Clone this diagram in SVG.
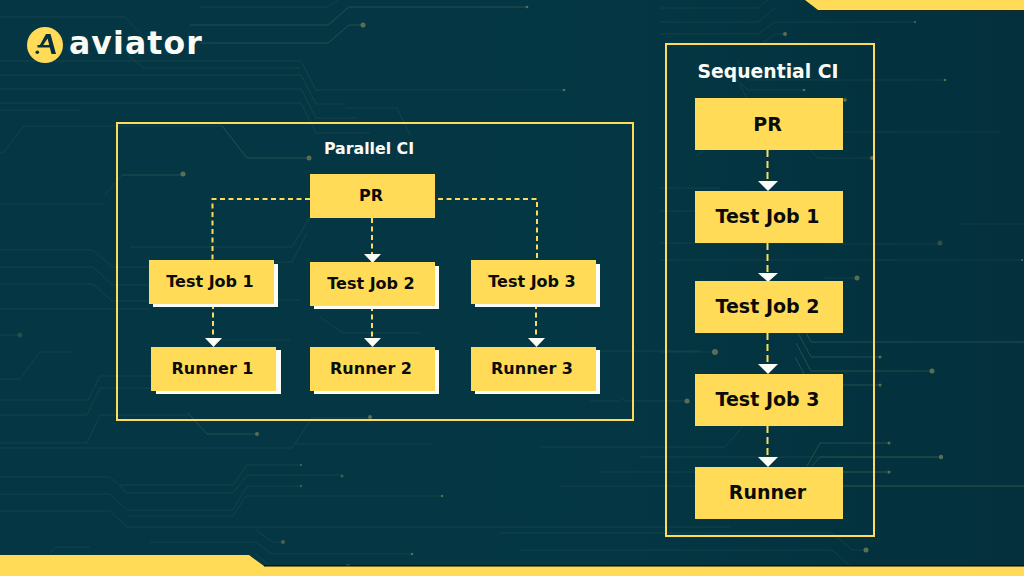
<svg xmlns="http://www.w3.org/2000/svg" width="1024" height="576" viewBox="0 0 1024 576">
<style>
.tr{fill:none;stroke:#46695a;stroke-width:1;opacity:.5}
.tf{fill:none;stroke:#46695a;stroke-width:1;opacity:.26}
.dot{fill:#5a6e52}
.frame{fill:none;stroke:#ffdb58;stroke-width:2}
.box{fill:#ffdb58}
.sh{fill:#fdfdf8}
.l{font-family:"DejaVu Sans","Liberation Sans",sans-serif;font-weight:700;fill:#0b0b08;text-anchor:middle}
.s{font-size:16px}
.b{font-size:19px}
.t{font-family:"DejaVu Sans","Liberation Sans",sans-serif;font-weight:700;fill:#fbfbf6;text-anchor:middle}
.c{fill:none;stroke:#ffdb58;stroke-width:2;stroke-dasharray:5 3.5}
.c2{fill:none;stroke:#ffdb58;stroke-width:2;stroke-dasharray:7 4}
.a{fill:#fdfdf8}
</style>
<defs>
<linearGradient id="bg" x1="0" y1="0" x2="1" y2="0">
<stop offset="0" stop-color="#043643"/>
<stop offset=".55" stop-color="#043744"/>
<stop offset="1" stop-color="#03303c"/>
</linearGradient>
</defs>
<rect width="1024" height="576" fill="url(#bg)"/>
<g id="traces">
<path class="tf" d="M0 17H125L143 36M128 55L143 68H300M0 61H301L316 90H564M0 75H301L316 104H345M0 89H301L316 118H355M0 103H301L316 133H370M345 108H397L410 135M200 7H328L338 0"/>
<path class="tr" d="M190 25H328L349 7H527M200 43H328L349 25H363"/>
<path class="tf" d="M0 110H80M0 153H3L24 126H222"/>
<path class="tr" d="M222 126L247 158H309M122 175H183"/>
<path class="tf" d="M105 195L122 175M0 204H105M0 250H93L112 267H190M0 267H93L112 285H200M0 284H93L112 301H200M0 309H150M0 335H20M0 379H20L40 352H70"/>
<path class="tf" d="M0 400H88L100 376H150M0 415H87L100 388H150M0 443H87L100 415H188"/>
<path class="tr" d="M188 413L207 434H257"/>
<path class="tf" d="M0 477H110L127 493H233L247 475H342M120 485H233L247 465H301M0 494H110L127 510H233L247 486H301M0 511H110L127 527H730M127 516H233L246 496H442M0 448H292L312 418H370M295 444H432M150 542H255L272 554H412M50 554L55 547H90M255 529L272 542H283M255 554L270 566"/>
<path class="tf" d="M130 247H292L310 217M150 262H292L307 233M320 317L343 333H420M170 300H300M210 340H290"/>
<path class="tf" d="M540 447H725L743 426M500 533H832L852 550H866M520 550H832L850 566M560 486H1024M600 472H889M640 457H941M590 351H700M620 397L625 401H687M660 352H715M590 401H620"/>
<path class="tr" d="M796 343L811 371H932M798 333L811 357H880M803 327L811 342H1024M795 357L810 385H880M807 466L820 443H889M812 466L820 457H941M843 472H889M843 486H1024"/>
<path class="tf" d="M660 8H758L775 -6M660 22H758L775 8M660 34H758L775 22H915M763 43L775 34H785M737 60L748 80H945M737 80L748 90H804M740 85L748 100H845M843 132H1000M810 150L818 158H872M697 156L703 150M960 224H1024M660 188H720M660 243H823L842 244H940M660 260H823L842 260H1022M823 278L842 278H857M660 211H780"/>
<circle class="dot" cx="527" cy="7" r="1.3"/><circle class="dot" cx="363" cy="25" r="2.5"/><circle class="dot" cx="564" cy="90" r="1.3"/>
<circle class="dot" cx="309" cy="158" r="2.5"/><circle class="dot" cx="183" cy="174" r="2.5"/><circle class="dot" cx="20" cy="335" r="2.5" opacity=".4"/>
<circle class="dot" cx="257" cy="434" r="2"/><circle class="dot" cx="370" cy="417" r="2"/><circle class="dot" cx="301" cy="465" r="1.2" opacity=".7"/><circle class="dot" cx="342" cy="476" r="1.5" opacity=".7"/><circle class="dot" cx="301" cy="486" r="1.2" opacity=".7"/>
<circle class="dot" cx="442" cy="496" r="1.2"/><circle class="dot" cx="412" cy="554" r="1.2"/><circle class="dot" cx="283" cy="542" r="2" opacity=".8"/><circle class="dot" cx="348" cy="566" r="2" opacity=".6"/>
<circle class="dot" cx="785" cy="34" r="2"/><circle class="dot" cx="915" cy="22" r="1"/><circle class="dot" cx="945" cy="80" r="1.3"/><circle class="dot" cx="804" cy="90" r="1.3"/><circle class="dot" cx="845" cy="100" r="1.8"/><circle class="dot" cx="872" cy="158" r="2"/><circle class="dot" cx="940" cy="243" r="2.5" opacity=".5"/><circle class="dot" cx="1022" cy="260" r="1"/><circle class="dot" cx="857" cy="278" r="2.5"/>
<circle class="dot" cx="880" cy="357" r="1.5"/><circle class="dot" cx="932" cy="371" r="2.5"/><circle class="dot" cx="880" cy="385" r="1.5"/><circle class="dot" cx="715" cy="352" r="3"/><circle class="dot" cx="687" cy="401" r="2.5"/><circle class="dot" cx="889" cy="443" r="1.5"/><circle class="dot" cx="941" cy="457" r="2.2"/><circle class="dot" cx="889" cy="472" r="1.5"/><circle class="dot" cx="866" cy="550" r="2.5"/>
</g>
<g id="bands">
<polygon points="805,0 818,10 1024,10 1024,0" fill="#ffdb58"/>
<path d="M818 10.500H1024" stroke="#1c2a20" stroke-width="1"/>
<polygon points="0,555 249,555 264,566 1024,566 1024,576 0,576" fill="#ffdb58"/>
<path d="M264 566H1024" stroke="#000" stroke-width="1"/>
</g>
<g id="logo">
<circle cx="45" cy="45" r="18" fill="#ffdb58"/>
<path d="M46 34H50.500L56 54H51.500L49.800 47.500H37.500V45H49.200L47.600 38.500L41.500 47.500H38.500Z" fill="#05303f"/>
<circle cx="37.300" cy="52.300" r="1.800" fill="#05303f"/>
<text x="69" y="54" font-family="'DejaVu Sans','Noto Sans',sans-serif" font-weight="700" font-size="31.500" letter-spacing="1.100" fill="#fbfbf6">aviator</text>
</g>
<g id="parallel-ci">
<rect class="frame" x="117" y="123" width="516" height="297"/>
<text class="t" x="369" y="154" font-size="15.800">Parallel CI</text>
</g>
<g id="sequential-ci">
<rect class="frame" x="666" y="44" width="208" height="492"/>
<text class="t" x="768" y="78" font-size="18.800">Sequential CI</text>
</g>
<g id="connectors">
<path class="c" d="M310 199H212.500V260"/>
<path class="c" d="M438 199H537V260"/>
<path class="c" d="M372 218V254"/>
<path class="c" d="M213 304V338"/>
<path class="c" d="M372 306V338"/>
<path class="c" d="M536 304V338"/>
<path class="c2" d="M767.500 150V181"/>
<path class="c2" d="M767.500 243V273"/>
<path class="c2" d="M767.500 333V364"/>
<path class="c2" d="M767.500 426V457"/>
<polygon class="a" points="364,254 381,254 372.500,263"/>
<polygon class="a" points="205,338 222,338 213.500,347"/>
<polygon class="a" points="364,338 381,338 372.500,347"/>
<polygon class="a" points="528,338 545,338 536.500,347"/>
<polygon class="a" points="758,181 778,181 768,191"/>
<polygon class="a" points="758,273 778,273 768,282"/>
<polygon class="a" points="758,364 778,364 768,374"/>
<polygon class="a" points="758,457 778,457 768,467"/>
</g>
<g id="p-pr"><rect class="box" x="310" y="174" width="125" height="44"/><text class="l s" x="371" y="201">PR</text></g>
<g id="p-job1"><rect class="sh" x="153" y="264" width="125" height="43"/><rect class="box" x="149" y="260" width="125" height="44"/><text class="l s" x="210" y="287">Test Job 1</text></g>
<g id="p-job2"><rect class="sh" x="314" y="266" width="125" height="43"/><rect class="box" x="310" y="262" width="125" height="44"/><text class="l s" x="371" y="289">Test Job 2</text></g>
<g id="p-job3"><rect class="sh" x="475" y="264" width="125" height="43"/><rect class="box" x="471" y="260" width="125" height="44"/><text class="l s" x="532" y="287">Test Job 3</text></g>
<g id="p-run1"><rect class="sh" x="156" y="350" width="125" height="44"/><rect class="box" x="151" y="347" width="125" height="44"/><text class="l s" x="212.500" y="374">Runner 1</text></g>
<g id="p-run2"><rect class="sh" x="314" y="350" width="125" height="44"/><rect class="box" x="310" y="347" width="125" height="44"/><text class="l s" x="371" y="374">Runner 2</text></g>
<g id="p-run3"><rect class="sh" x="475" y="350" width="125" height="44"/><rect class="box" x="471" y="347" width="125" height="44"/><text class="l s" x="532" y="374">Runner 3</text></g>
<g id="s-pr"><rect class="box" x="695" y="98" width="148" height="52"/><text class="l b" x="767.500" y="131">PR</text></g>
<g id="s-job1"><rect class="box" x="695" y="191" width="148" height="52"/><text class="l b" x="767.500" y="223">Test Job 1</text></g>
<g id="s-job2"><rect class="box" x="695" y="281" width="148" height="52"/><text class="l b" x="767.500" y="313">Test Job 2</text></g>
<g id="s-job3"><rect class="box" x="695" y="374" width="148" height="52"/><text class="l b" x="767.500" y="406">Test Job 3</text></g>
<g id="s-runner"><rect class="box" x="695" y="467" width="148" height="52"/><text class="l b" x="767.500" y="499">Runner</text></g>
</svg>
